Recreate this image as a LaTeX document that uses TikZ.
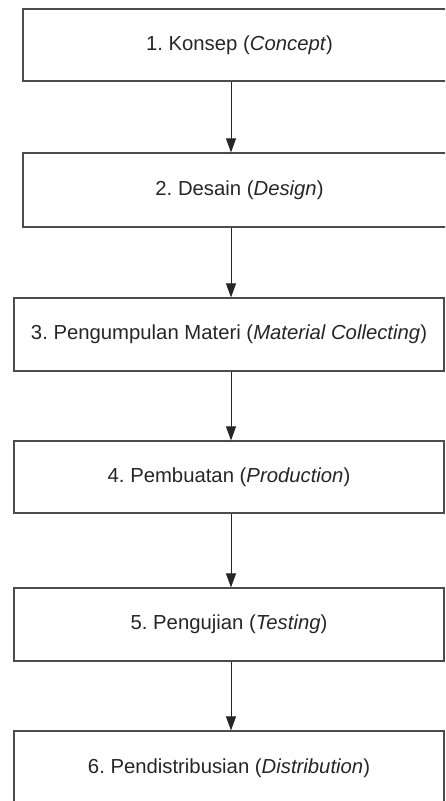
\documentclass[tikz,border=0pt]{standalone}
\usepackage{fontspec}
\setmainfont{Liberation Sans}
\usetikzlibrary{arrows.meta}
\frenchspacing
\tikzset{
  stage/.style={draw=black!70, line width=1.2pt, inner sep=0pt,
    text=black!85, font=\fontsize{20.3}{24}\selectfont},
  flow/.style={draw=black!85, line width=1pt, -{Triangle[length=14pt,width=10pt]}}
}
\begin{document}
\begin{tikzpicture}[x=1pt,y=-1pt]
\useasboundingbox (0,0) rectangle (445,801);
\clip (0,0) rectangle (445,801);
\coordinate (axis) at (231,0);

\node [stage, minimum width=433pt, minimum height=72pt] (konsep) at (239.5,45) {1. Konsep (\textit{Concept})};
\node [stage, minimum width=433pt, minimum height=74pt] (desain) at (239.5,190) {2. Desain (\textit{Design})};
\node [stage, minimum width=430pt, minimum height=73pt] (materi) at (229,334.5) {3. Pengumpulan Materi (\textit{Material Collecting})};
\node [stage, minimum width=430pt, minimum height=72pt] (buat) at (229,477) {4. Pembuatan (\textit{Production})};
\node [stage, minimum width=430pt, minimum height=73pt] (uji) at (229,624.5) {5. Pengujian (\textit{Testing})};
\node [stage, minimum width=430pt, minimum height=74pt] (distribusi) at (229,768) {6. Pendistribusian (\textit{Distribution})};

\draw [flow] (konsep.south -| axis) -- (desain.north -| axis);
\draw [flow] (desain.south -| axis) -- (materi.north -| axis);
\draw [flow] (materi.south -| axis) -- (buat.north -| axis);
\draw [flow] (buat.south -| axis) -- (uji.north -| axis);
\draw [flow] (uji.south -| axis) -- (distribusi.north -| axis);
\end{tikzpicture}
\end{document}
